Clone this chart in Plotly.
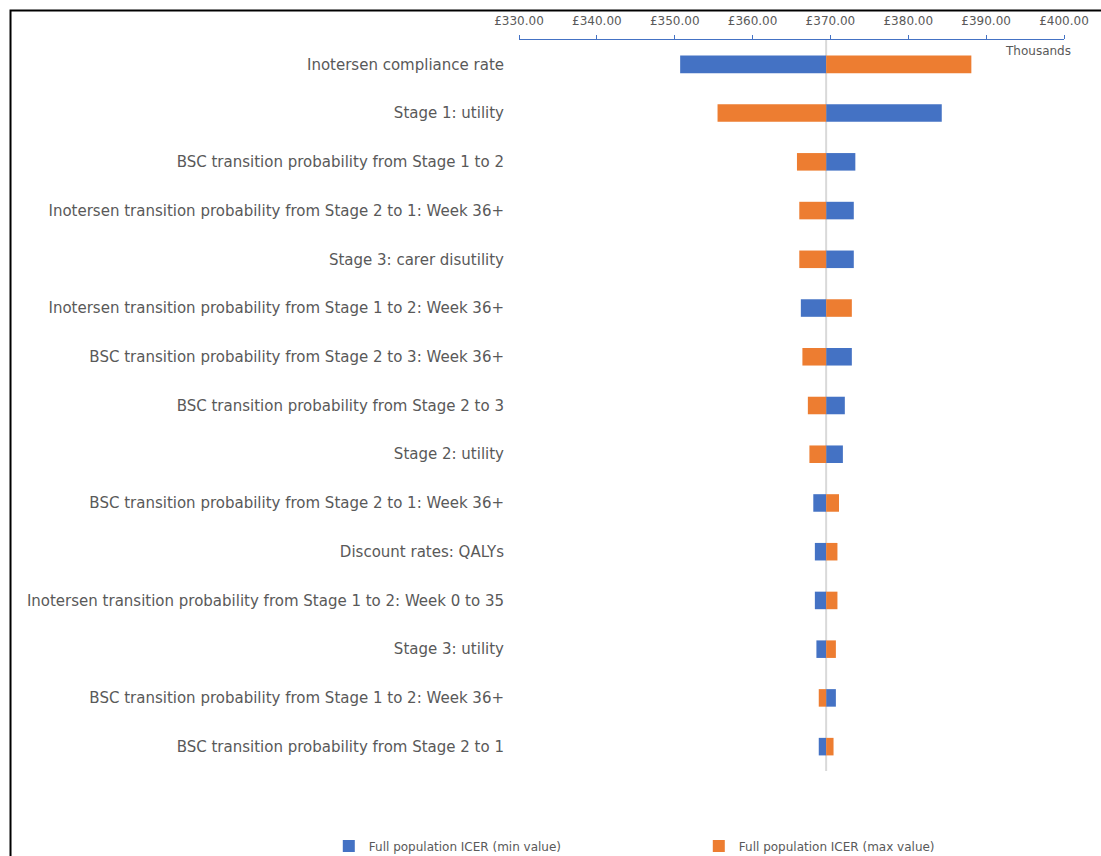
import plotly.graph_objects as go

categories = [
    "Inotersen compliance rate",
    "Stage 1: utility",
    "BSC transition probability from Stage 1 to 2",
    "Inotersen transition probability from Stage 2 to 1: Week 36+",
    "Stage 3: carer disutility",
    "Inotersen transition probability from Stage 1 to 2: Week 36+",
    "BSC transition probability from Stage 2 to 3: Week 36+",
    "BSC transition probability from Stage 2 to 3",
    "Stage 2: utility",
    "BSC transition probability from Stage 2 to 1: Week 36+",
    "Discount rates: QALYs",
    "Inotersen transition probability from Stage 1 to 2: Week 0 to 35",
    "Stage 3: utility",
    "BSC transition probability from Stage 1 to 2: Week 36+",
    "BSC transition probability from Stage 2 to 1",
]
# ICER values in £ thousands
base_icer = 369.45
min_values = [350.7, 384.3, 373.2, 373.0, 373.0, 366.2, 372.75, 371.85, 371.6,
              367.8, 368.0, 368.0, 368.2, 370.7, 368.5]
max_values = [388.1, 355.5, 365.7, 366.0, 366.0, 372.75, 366.4, 367.1, 367.3,
              371.1, 370.9, 370.9, 370.7, 368.5, 370.4]
tick_vals = [330, 340, 350, 360, 370, 380, 390, 400]
tick_text = ["£330.00", "£340.00", "£350.00", "£360.00", "£370.00", "£380.00", "£390.00", "£400.00"]

BLUE = "#4472C4"
ORANGE = "#ED7D31"
GRAY = "#595959"
FONT = "DejaVu Sans"

fig = go.Figure()
fig.add_trace(go.Bar(
    y=categories, x=[v - base_icer for v in min_values], base=base_icer,
    orientation="h", name="Full population ICER (min value)",
    marker=dict(color=BLUE, line=dict(width=0)), width=0.36,
))
fig.add_trace(go.Bar(
    y=categories, x=[v - base_icer for v in max_values], base=base_icer,
    orientation="h", name="Full population ICER (max value)",
    marker=dict(color=ORANGE, line=dict(width=0)), width=0.36,
))

fig.update_layout(
    width=1101, height=856,
    margin=dict(l=519, r=37, t=40, b=85, autoexpand=False),
    paper_bgcolor="white", plot_bgcolor="white",
    barmode="overlay",
    font=dict(family=FONT, color=GRAY, size=14),
    xaxis=dict(
        side="top", range=[330, 400], tickvals=tick_vals, ticktext=tick_text,
        showgrid=False, zeroline=False, showline=True, linecolor=BLUE, linewidth=1,
        ticks="outside", ticklen=4, tickcolor=BLUE, tickwidth=1,
        ticklabelstandoff=5,
        tickfont=dict(size=12, color=GRAY, family=FONT),
    ),
    yaxis=dict(
        autorange="reversed", showgrid=False, zeroline=False, showline=False,
        ticks="", ticklabelstandoff=14,
        tickfont=dict(size=15, color=GRAY, family=FONT),
    ),
    legend=dict(
        orientation="h", xref="paper", yref="paper",
        x=-0.349, y=-0.1026, xanchor="left", yanchor="middle",
        entrywidthmode="pixels", entrywidth=325,
        font=dict(size=12, color=GRAY, family=FONT),
        itemwidth=30,
    ),
    shapes=[
        dict(type="line", xref="x", yref="paper", x0=base_icer, x1=base_icer,
             y0=0, y1=1, line=dict(color="#D9D9D9", width=2), layer="below"),
        dict(type="rect", xref="paper", yref="paper",
             x0=-0.933, x1=1.2, y0=-0.2, y1=1.0404,
             line=dict(color="black", width=2), fillcolor="rgba(0,0,0,0)"),
    ],
    annotations=[
        dict(text="Thousands", xref="paper", yref="paper", x=0.952, y=0.985,
             xanchor="center", yanchor="middle", showarrow=False,
             font=dict(size=12, color=GRAY, family=FONT)),
    ],
)

fig.write_html("out.html", config={"displayModeBar": False},
               post_script="document.body.style.margin='0';")
